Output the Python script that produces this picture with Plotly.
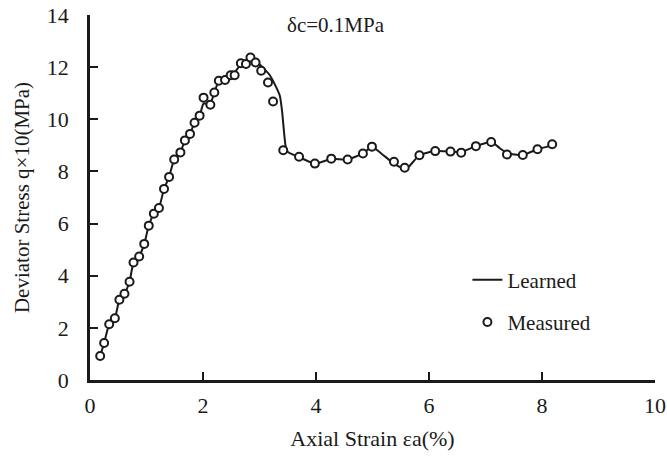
import plotly.graph_objects as go

# Measured data (axial strain %, deviator stress q x10 MPa)
measured_x = [0.18, 0.25, 0.34, 0.44, 0.52, 0.61, 0.70, 0.77, 0.87, 0.96,
              1.04, 1.13, 1.22, 1.31, 1.40, 1.49, 1.60, 1.68, 1.77, 1.85,
              1.94, 2.01, 2.13, 2.20, 2.28, 2.39, 2.49, 2.56, 2.67, 2.76,
              2.84, 2.93, 3.03, 3.15, 3.24, 3.42, 3.70, 3.98, 4.27, 4.56,
              4.83, 4.99, 5.38, 5.57, 5.83, 6.11, 6.38, 6.57, 6.83, 7.10,
              7.38, 7.66, 7.92, 8.18]
measured_y = [0.92, 1.42, 2.14, 2.37, 3.08, 3.31, 3.77, 4.51, 4.74, 5.22,
              5.92, 6.38, 6.60, 7.33, 7.79, 8.46, 8.73, 9.19, 9.44, 9.87,
              10.14, 10.83, 10.56, 11.03, 11.48, 11.51, 11.69, 11.69, 12.15, 12.12,
              12.37, 12.18, 11.86, 11.41, 10.68, 8.81, 8.56, 8.30, 8.49, 8.46,
              8.69, 8.95, 8.37, 8.14, 8.62, 8.78, 8.76, 8.72, 8.97, 9.13,
              8.65, 8.63, 8.85, 9.04]

# Learned (model) curve
learned_x = [0.18, 0.25, 0.34, 0.44, 0.52, 0.61, 0.70, 0.77, 0.87, 0.96,
             1.04, 1.13, 1.22, 1.31, 1.40, 1.49, 1.60, 1.68, 1.77, 1.85,
             1.94, 2.01, 2.13, 2.20, 2.28, 2.39, 2.49, 2.56, 2.67, 2.76,
             2.84, 2.95, 3.05, 3.18, 3.28, 3.36, 3.40, 3.43, 3.46, 3.50,
             3.70, 3.98, 4.27, 4.56, 4.83, 4.99, 5.15, 5.38, 5.57, 5.65,
             5.83, 6.11, 6.38, 6.57, 6.83, 7.10, 7.25, 7.38, 7.66, 7.92, 8.18]
learned_y = [0.92, 1.42, 2.14, 2.37, 3.08, 3.31, 3.77, 4.51, 4.74, 5.22,
             5.92, 6.38, 6.60, 7.33, 7.79, 8.46, 8.73, 9.19, 9.44, 9.87,
             10.14, 10.60, 10.60, 11.03, 11.45, 11.50, 11.70, 11.80, 12.10, 12.15,
             12.30, 12.20, 12.00, 11.70, 11.30, 10.90, 10.30, 9.60, 9.00, 8.75,
             8.55, 8.30, 8.48, 8.46, 8.69, 8.95, 8.70, 8.30, 8.10, 8.20,
             8.62, 8.78, 8.76, 8.74, 8.97, 9.13, 8.90, 8.70, 8.63, 8.85, 9.00]

x_ticks = [0, 2, 4, 6, 8, 10]
y_ticks = [0, 2, 4, 6, 8, 10, 12, 14]

INK = "#1a1a1a"
FONT = "Liberation Serif"

fig = go.Figure()
fig.add_trace(go.Scatter(
    x=learned_x, y=learned_y, mode="lines", name="Learned",
    line=dict(color=INK, width=2, shape="spline", smoothing=0.5),
    legendgroup="a",
))
fig.add_trace(go.Scatter(
    x=measured_x, y=measured_y, mode="markers", name="Measured",
    marker=dict(symbol="circle", size=8, color="white",
                line=dict(color=INK, width=2)),
    legendgroup="b",
))

fig.add_annotation(x=4.35, y=13.6, xref="x", yref="y", text="δc=0.1MPa",
                   showarrow=False, font=dict(family=FONT, size=21, color=INK))

fig.update_layout(
    width=667, height=462,
    margin=dict(l=90, r=12, t=15, b=82),
    paper_bgcolor="white", plot_bgcolor="white",
    font=dict(family=FONT, size=22, color=INK),
    showlegend=True,
    legend=dict(x=0.668, y=0.33, xanchor="left", yanchor="top",
                bgcolor="rgba(0,0,0,0)", tracegroupgap=12,
                font=dict(family=FONT, size=21, color=INK)),
    xaxis=dict(range=[0, 10], tickvals=x_ticks, ticks="inside", ticklen=8,
               tickwidth=2, tickcolor=INK, showline=True, linewidth=2.5,
               linecolor=INK, showgrid=False, zeroline=False,
               ticklabelstandoff=4, automargin=False,
               tickfont=dict(family=FONT, size=22, color=INK),
               title=dict(text="Axial Strain εa(%)", standoff=14,
                          font=dict(family=FONT, size=22, color=INK))),
    yaxis=dict(range=[0, 14], tickvals=y_ticks, ticks="inside", ticklen=8,
               tickwidth=2, tickcolor=INK, showline=True, linewidth=2.5,
               linecolor=INK, showgrid=False, zeroline=False,
               ticklabelstandoff=14, automargin=False,
               tickfont=dict(family=FONT, size=22, color=INK),
               title=dict(text="Deviator Stress q×10(MPa)", standoff=12,
                          font=dict(family=FONT, size=21, color=INK))),
)

fig.write_html("out.html",
               config={"displayModeBar": False},
               post_script="document.body.style.margin='0';document.body.style.padding='0';")
